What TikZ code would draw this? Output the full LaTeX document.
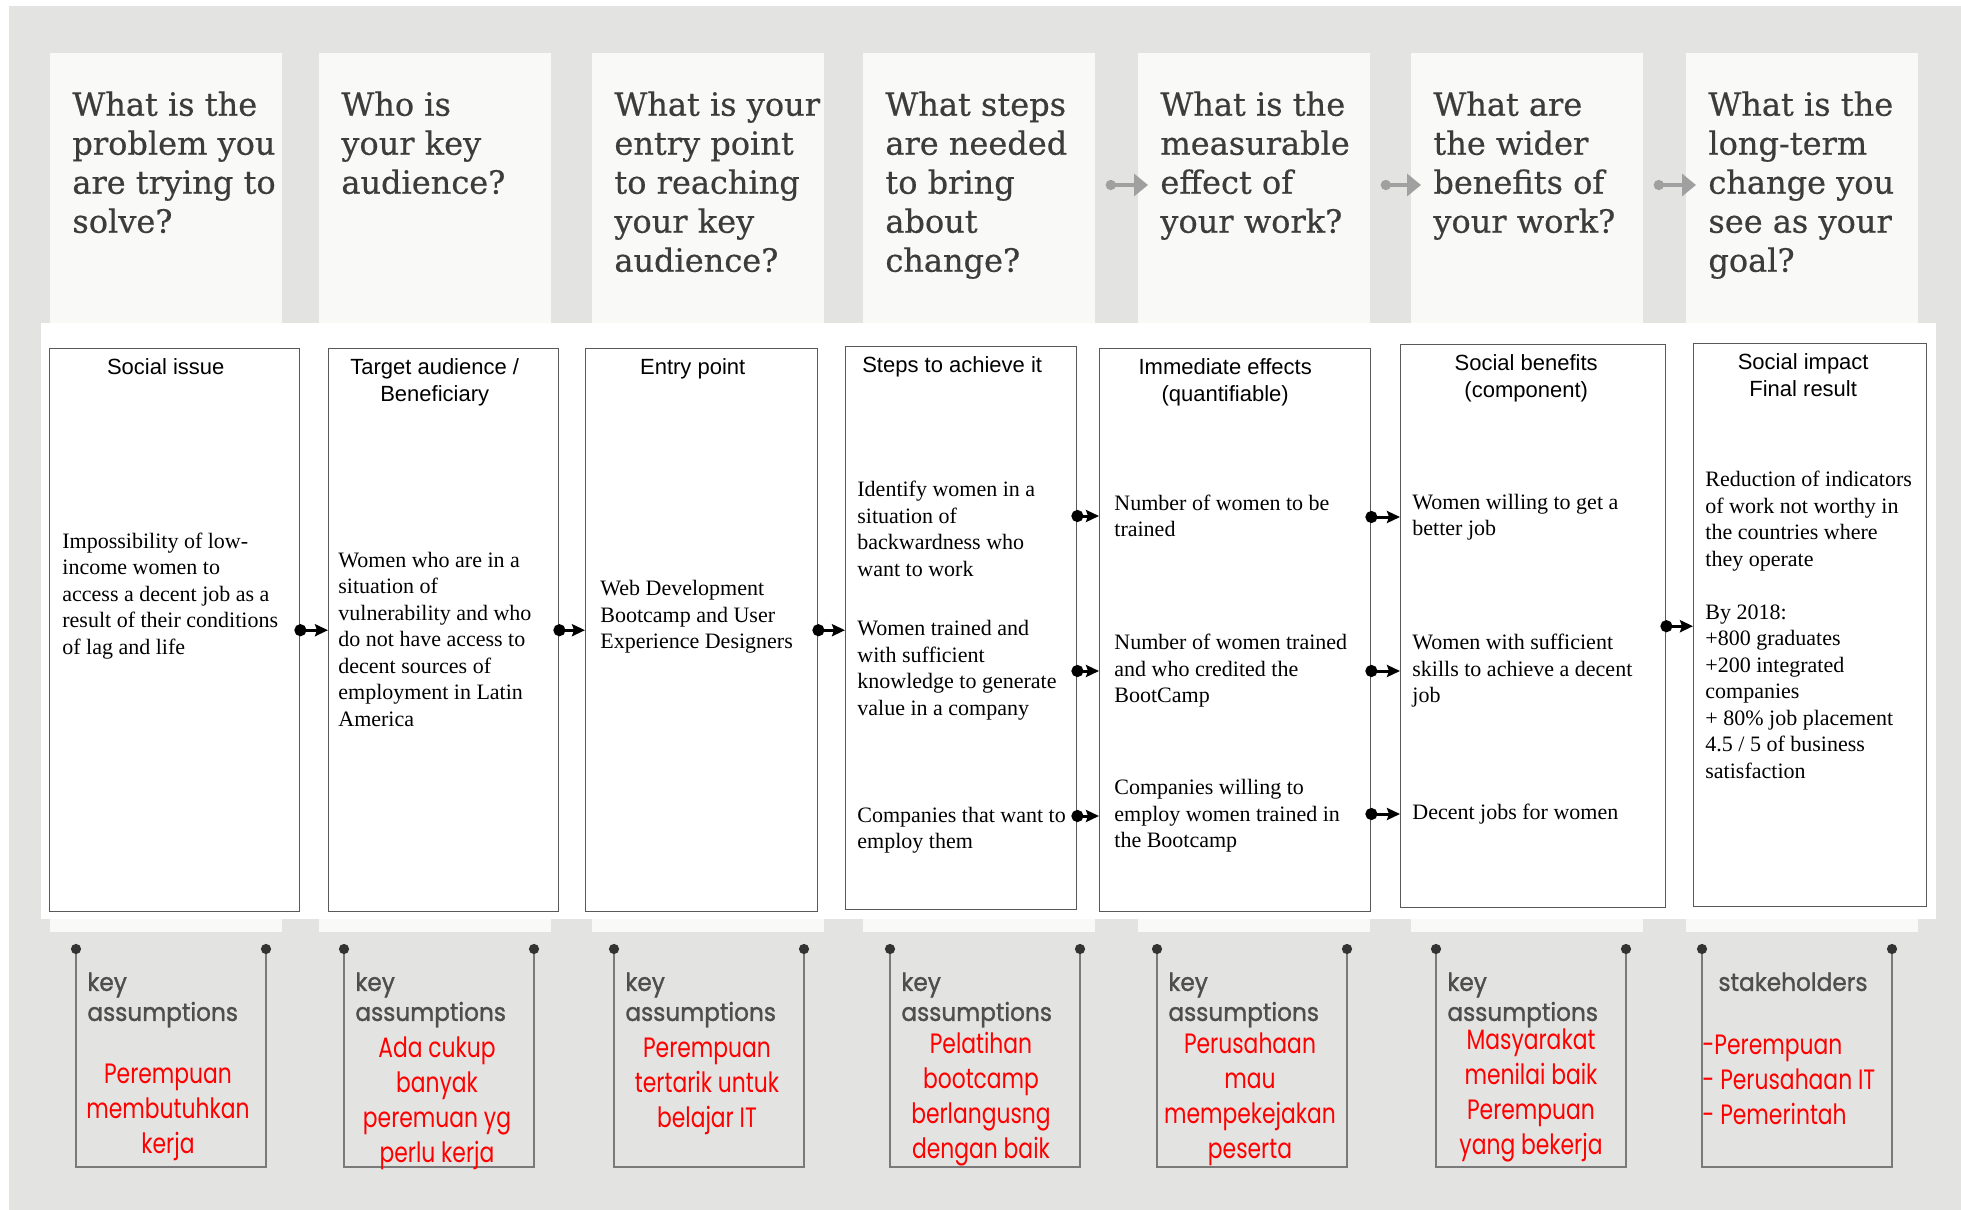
\documentclass[tikz,border=0pt]{standalone}
\usepackage{fontspec}
\setmainfont{Liberation Serif}
\newfontfamily\headfont{Liberation Sans}
\newfontfamily\askfont[FakeBold=0.5]{DejaVu Serif}
\newfontfamily\tagfont[FakeBold=1.2,FakeStretch=0.93]{Poppins}
\newfontfamily\notefont[FakeStretch=0.78]{Poppins}
\usetikzlibrary{arrows.meta,positioning}

\definecolor{bggray}{HTML}{E3E3E2}
\definecolor{cardwhite}{HTML}{F9F9F8}
\definecolor{askgray}{HTML}{3C3C3C}
\definecolor{arrowgray}{HTML}{A0A0A0}
\definecolor{bracketgray}{HTML}{7A7A7A}
\definecolor{taggray}{HTML}{4E4E4E}
\definecolor{notered}{HTML}{FF0000}

\begin{document}
\begin{tikzpicture}[x=0.5pt, y=-0.5pt,
  card/.style={fill=cardwhite, anchor=north west, minimum width=116pt, minimum height=439.5pt, inner sep=0pt},
  question/.style={anchor=north west, align=left, inner sep=0pt, text=askgray, font=\askfont\fontsize{16}{19.5}\selectfont},
  box/.style={draw=black!65, line width=0.7pt, fill=white, anchor=north west, inner sep=0pt, minimum height=281.5pt},
  head/.style={anchor=north, align=center, inner sep=0pt, font=\headfont\fontsize{11}{13.8}\selectfont},
  body/.style={anchor=west, align=left, inner sep=0pt, font=\fontsize{11}{13.25}\selectfont},
  link/.style={{Circle[length=6pt]}-{Stealth[length=6.5pt,width=6pt,inset=1pt]}, line width=1.5pt, shorten <=-3pt},
  glink/.style={{Circle[length=5pt]}-{Triangle[length=7pt,width=11pt]}, line width=2.2pt, draw=arrowgray, shorten <=5pt, shorten >=-5pt},
  bracket/.style={draw=bracketgray, line width=1.4pt, {Circle[length=5pt,color=black!80]}-{Circle[length=5pt,color=black!80]}},
  tag/.style={anchor=north west, align=left, inner sep=0pt, text=taggray, font=\tagfont\fontsize{12.5}{15}\selectfont},
  note/.style={align=center, inner sep=0pt, text=notered, font=\notefont\fontsize{14}{17.5}\selectfont}
]
\useasboundingbox (0,0) rectangle (1961,1210);
\fill[white] (0,0) rectangle (1961,1210);
\fill[bggray] (9,6) rectangle (1961,1210);

% question cards
\node[card] (q1) at (50,53) {};
\node[card] (q2) at (319,53) {};
\node[card] (q3) at (592,53) {};
\node[card] (q4) at (863,53) {};
\node[card] (q5) at (1138,53) {};
\node[card] (q6) at (1411,53) {};
\node[card] (q7) at (1686,53) {};

\node[question] (w1) at (72,91) {What is the\\problem you\\are trying to\\solve?};
\node[question] (w2) at (341,91) {Who is\\your key\\audience?};
\node[question] (w3) at (614,91) {What is your\\entry point\\to reaching\\your key\\audience?};
\node[question] (w4) at (885,91) {What steps\\are needed\\to bring\\about\\change?};
\node[question] (w5) at (1160,91) {What is the\\measurable\\effect of\\your work?};
\node[question] (w6) at (1433,91) {What are\\the wider\\benefits of\\your work?};
\node[question] (w7) at (1708,91) {What is the\\long-term\\change you\\see as your\\goal?};

\draw[glink] (q4.east |- 0,185) -- (q5.west |- 0,185);
\draw[glink] (q5.east |- 0,185) -- (q6.west |- 0,185);
\draw[glink] (q6.east |- 0,185) -- (q7.west |- 0,185);

% white band with the chain
\fill[white] (41,323) rectangle (1936,919);

\node[box, minimum width=125pt] (b1) at (49,348) {};
\node[box, minimum width=115pt] (b2) at (328,348) {};
\node[box, minimum width=116pt] (b3) at (585,348) {};
\node[box, minimum width=115.5pt] (b4) at (845,346) {};
\node[box, minimum width=135.5pt] (b5) at (1099,348) {};
\node[box, minimum width=132.5pt] (b6) at (1400,344) {};
\node[box, minimum width=116.5pt] (b7) at (1693,343) {};

\node[head] (h1) at ([xshift=-4.5pt,yshift=-5pt]b1.north) {Social issue};
\node[head] (h2) at ([xshift=-4.5pt,yshift=-5pt]b2.north) {Target audience /\\Beneficiary};
\node[head] (h3) at ([xshift=-4.5pt,yshift=-5pt]b3.north) {Entry point};
\node[head] (h4) at ([xshift=-4.5pt,yshift=-5pt]b4.north) {Steps to achieve it};
\node[head] (h5) at ([xshift=-5pt,yshift=-5pt]b5.north) {Immediate effects\\(quantifiable)};
\node[head] (h6) at ([xshift=-3.5pt,yshift=-5pt]b6.north) {Social benefits\\(component)};
\node[head] (h7) at ([xshift=-3.5pt,yshift=-5pt]b7.north) {Social impact\\Final result};

\node[body] (t1) at (62,596) {Impossibility of low-\\income women to\\access a decent job as a\\result of their conditions\\of lag and life};
\node[body] (t2) at (338,639) {Women who are in a\\situation of\\vulnerability and who\\do not have access to\\decent sources of\\employment in Latin\\America};
\node[body] (t3) at (600,617) {Web Development\\Bootcamp and User\\Experience Designers};
\node[body] (t4a) at (857,529) {Identify women in a\\situation of\\backwardness who\\want to work};
\node[body] (t4b) at (857,670) {Women trained and\\with sufficient\\knowledge to generate\\value in a company};
\node[body] (t4c) at (857,830) {Companies that want to\\employ them};
\node[body] (t5a) at (1114,516) {Number of women to be\\trained};
\node[body] (t5b) at (1114,671) {Number of women trained\\and who credited the\\BootCamp};
\node[body] (t5c) at (1114,816) {Companies willing to\\employ women trained in\\the Bootcamp};
\node[body] (t6a) at (1412,517) {Women willing to get a\\better job};
\node[body] (t6b) at (1412,671) {Women with sufficient\\skills to achieve a decent\\job};
\node[body] (t6c) at (1412,814) {Decent jobs for women};
\node[body] (t7) at (1705,625) {Reduction of indicators\\of work not worthy in\\the countries where\\they operate\\[13.25pt]By 2018:\\+800 graduates\\+200 integrated\\companies\\+ 80\% job placement\\4.5 / 5 of business\\satisfaction};

\draw[link] (b1.east) -- (b2.west);
\draw[link] (b2.east) -- (b3.west);
\draw[link] (b3.east) -- (b3.east -| b4.west);
\draw[link] (b4.east |- t5a) -- (t5a -| b5.west);
\draw[link] (b4.east |- t5b) -- (t5b -| b5.west);
\draw[link] (b4.east |- t5c) -- (t5c -| b5.west);
\draw[link] (b5.east |- t6a) -- (t6a -| b6.west);
\draw[link] (b5.east |- t6b) -- (t6b -| b6.west);
\draw[link] (b5.east |- t6c) -- (t6c -| b6.west);
\draw[link] (b6.east) -- (b6.east -| b7.west);

% assumptions
\draw[bracket] (76,944) -- (76,1167) -- (266,1167) -- (266,944);
\draw[bracket] (344,944) -- (344,1167) -- (534,1167) -- (534,944);
\draw[bracket] (614,944) -- (614,1167) -- (804,1167) -- (804,944);
\draw[bracket] (890,944) -- (890,1167) -- (1080,1167) -- (1080,944);
\draw[bracket] (1157,944) -- (1157,1167) -- (1347,1167) -- (1347,944);
\draw[bracket] (1436,944) -- (1436,1167) -- (1626,1167) -- (1626,944);
\draw[bracket] (1702,944) -- (1702,1167) -- (1892,1167) -- (1892,944);

\node[tag] (k1) at (87,972) {key\\assumptions};
\node[tag] (k2) at (355,972) {key\\assumptions};
\node[tag] (k3) at (625,972) {key\\assumptions};
\node[tag] (k4) at (901,972) {key\\assumptions};
\node[tag] (k5) at (1168,972) {key\\assumptions};
\node[tag] (k6) at (1447,972) {key\\assumptions};
\node[tag, anchor=north] (k7) at (1793,972) {stakeholders};

\node[note] (n1) at (168,1112) {Perempuan\\membutuhkan\\kerja};
\node[note] (n2) at (437,1103) {Ada cukup\\banyak\\peremuan yg\\perlu kerja};
\node[note] (n3) at (707,1086) {Perempuan\\tertarik untuk\\belajar IT};
\node[note] (n4) at (981,1099) {Pelatihan\\bootcamp\\berlangusng\\dengan baik};
\node[note] (n5) at (1250,1099) {Perusahaan\\mau\\mempekejakan\\peserta};
\node[note] (n6) at (1531,1095) {Masyarakat\\menilai baik\\Perempuan\\yang bekerja};
\node[note, anchor=west, align=left] (n7) at (1702,1080) {-Perempuan\\- Perusahaan IT\\- Pemerintah};
\end{tikzpicture}
\end{document}
